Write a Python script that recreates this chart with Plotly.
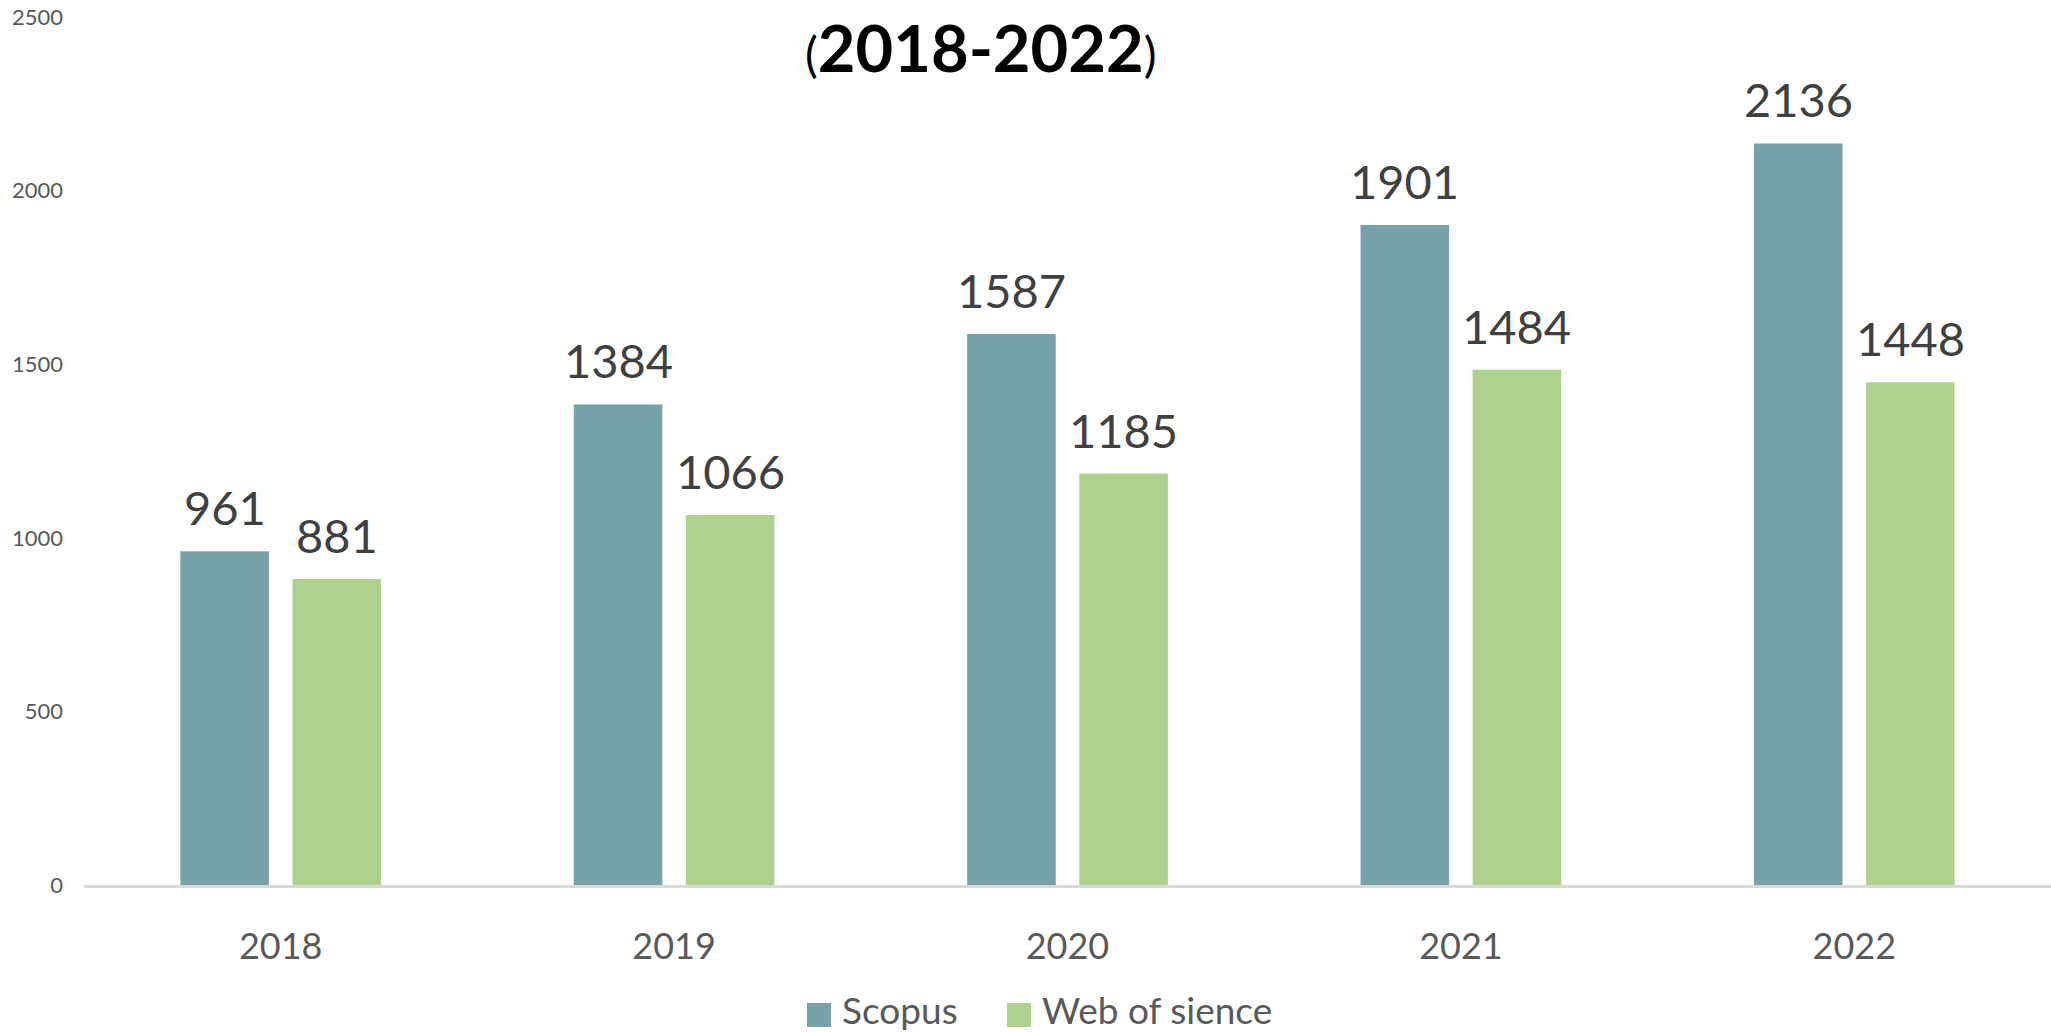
import plotly.graph_objects as go

years = ["2018", "2019", "2020", "2021", "2022"]
scopus = [961, 1384, 1587, 1901, 2136]
wos = [881, 1066, 1185, 1484, 1448]
series_names = ["Scopus", "Web of sience"]
y_ticks = [0, 500, 1000, 1500, 2000, 2500]

W, H = 2051, 1032
ML, MR, MT, MB = 84, 0, 17, 147
PW, PH = W - ML - MR, H - MT - MB
BARGAP = 0.43
BARGROUPGAP = 0.21
colors = ["#78A2AA", "#ADD18E"]
FONT = "Lato"


def px_to_paper_x(px):
    return (px - ML) / PW


def px_to_paper_y(py):
    return (H - MB - py) / PH


fig = go.Figure()
for name, vals, col in zip(series_names, [scopus, wos], colors):
    fig.add_trace(go.Bar(x=years, y=vals, name=name, marker_color=col,
                         marker_line_width=0, showlegend=False, hoverinfo="skip"))

# value labels above bars (x given as category index)
cat_px = PW / len(years)
slot_px = cat_px * (1 - BARGAP) / 2
for i, vals in enumerate([scopus, wos]):
    for k, v in enumerate(vals):
        fig.add_annotation(x=k, y=v, xref="x", yref="y", text=str(v),
                           showarrow=False, yanchor="bottom",
                           xshift=(i - 0.5) * slot_px, yshift=14,
                           font=dict(family=FONT, size=47, color="#404040"))

# title
fig.add_annotation(
    x=px_to_paper_x(981), y=px_to_paper_y(47), xref="paper", yref="paper",
    xanchor="center", yanchor="middle", showarrow=False,
    text="<span style='font-size:48px;font-weight:normal'>(</span><b>2018-2022</b><span style='font-size:48px;font-weight:normal'>)</span>",
    font=dict(family=FONT, size=65, color="#000000"),
)

# custom legend (large square swatches)
LEG_X = [807, 1007]
LEG_Y = 1010
SW = 24
for name, col, lx in zip(series_names, colors, LEG_X):
    fig.add_shape(type="rect", xref="paper", yref="paper",
                  x0=px_to_paper_x(lx), x1=px_to_paper_x(lx + SW),
                  y0=px_to_paper_y(LEG_Y - SW / 2 + 5), y1=px_to_paper_y(LEG_Y + SW / 2 + 5),
                  fillcolor=col, line_width=0)
    fig.add_annotation(x=px_to_paper_x(lx + SW + 10), y=px_to_paper_y(LEG_Y),
                       xref="paper", yref="paper", xanchor="left", yanchor="middle",
                       showarrow=False, text=name, borderpad=0,
                       font=dict(family=FONT, size=37, color="#595959"))

fig.update_layout(
    width=W, height=H,
    margin=dict(l=ML, r=MR, t=MT, b=MB, pad=0),
    paper_bgcolor="white", plot_bgcolor="white",
    barmode="group", bargap=BARGAP, bargroupgap=BARGROUPGAP,
    font=dict(family=FONT, color="#595959"),
    showlegend=False,
    xaxis=dict(type="category", range=[-0.5, len(years) - 0.5], autorange=False,
               showgrid=False, showline=True, linecolor="#D9D9D9",
               linewidth=3, ticks="",
               tickfont=dict(family=FONT, size=36, color="#595959"),
               ticklabelstandoff=28, zeroline=False),
    yaxis=dict(range=[0, 2500], autorange=False, tickvals=y_ticks, showgrid=False,
               zeroline=False, showline=False, ticks="",
               tickfont=dict(family=FONT, size=22, color="#595959"),
               ticklabelstandoff=20),
)

fig.write_html("out.html", config={"displayModeBar": False},
               post_script="document.body.style.margin='0px';")
